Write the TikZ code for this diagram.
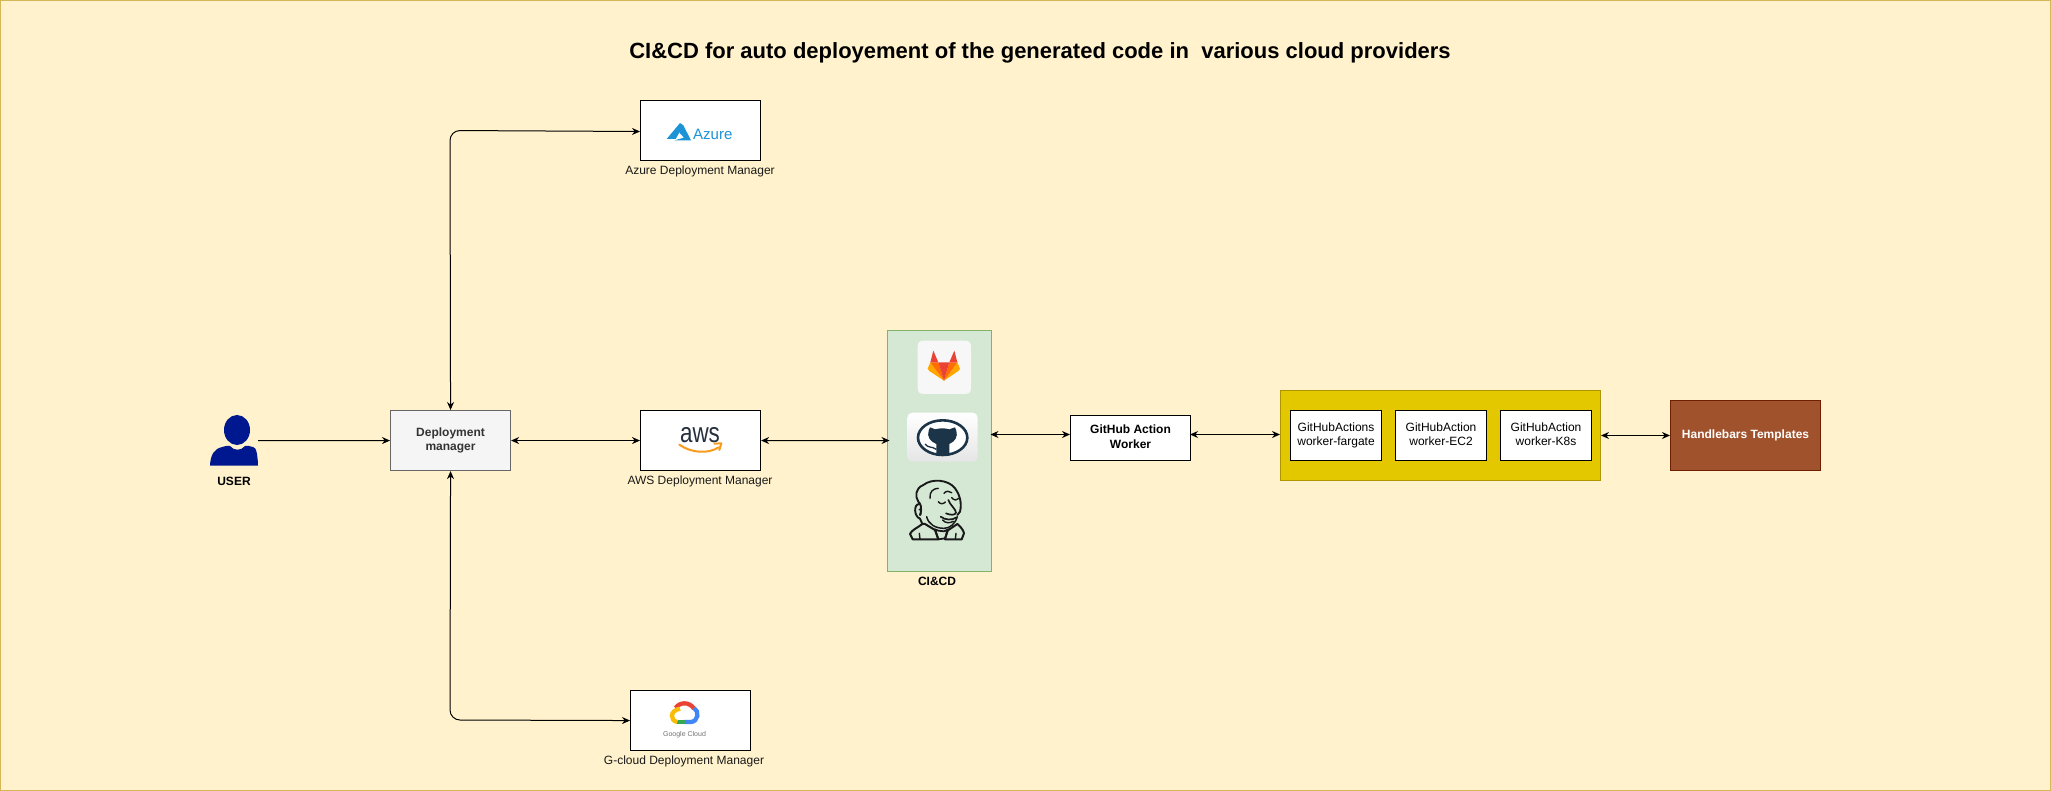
\documentclass[tikz,border=0pt]{standalone}
\usepackage{fontspec}
\setmainfont{Liberation Sans}
\usetikzlibrary{arrows.meta,shadings}
\definecolor{bgfill}{HTML}{FFF2CC}
\definecolor{bgline}{HTML}{D6B656}
\definecolor{cifill}{HTML}{D5E8D4}
\definecolor{ciline}{HTML}{82B366}
\definecolor{dmfill}{HTML}{F5F5F5}
\definecolor{dmline}{HTML}{666666}
\definecolor{dmtext}{HTML}{333333}
\definecolor{yfill}{HTML}{E3C800}
\definecolor{yline}{HTML}{B09500}
\definecolor{hfill}{HTML}{A0522D}
\definecolor{hline}{HTML}{6D1F00}
\definecolor{navy}{HTML}{00188F}
\definecolor{azblue}{HTML}{1B93D6}
\definecolor{awsdark}{HTML}{252F3E}
\definecolor{awsor}{HTML}{F79C1E}
\definecolor{ghdark}{HTML}{1B3448}
\definecolor{gred}{HTML}{EA4335}
\definecolor{gblue}{HTML}{4285F4}
\definecolor{ggreen}{HTML}{34A853}
\definecolor{gyel}{HTML}{FBBC05}
\newcommand{\lowered}[2]{\raisebox{-#1}{\begin{tabular}{@{}c@{}}#2\end{tabular}}}
\tikzset{
  x=1pt,y=-1pt,
  nf/.style={font=\fontsize{12}{14.4}\selectfont},
  bf/.style={font=\fontsize{12}{14.4}\selectfont\bfseries},
  box/.style={draw=black,line width=1.1pt,fill=white,minimum width=120pt,minimum height=60pt,anchor=north west,inner sep=0pt},
  wbox/.style={draw=black,line width=1.1pt,fill=white,minimum width=91pt,minimum height=50pt,anchor=north west,inner sep=0pt,nf},
  lbl/.style={nf,text=black!90,inner sep=0pt},
  blbl/.style={bf,inner sep=0pt},
  conn/.style={-{Stealth[length=8pt,width=7pt]},line width=1pt,black},
  dconn/.style={{Stealth[length=8pt,width=7pt]}-{Stealth[length=8pt,width=7pt]},line width=1pt,black},
}
\begin{document}
\begin{tikzpicture}
\useasboundingbox (0,0) rectangle (2051,791);
\fill[bgfill] (0,0) rectangle (2051,791);
\draw[bgline,line width=1.2pt] (0.6,0.6) rectangle (2050.4,790.4);
\node[font=\fontsize{22}{26}\selectfont\bfseries,inner sep=0pt] (title) at (1040,53) {CI\&CD for auto deployement of the generated code in\ \ various cloud providers};

% boxes
\node[box] (azure) at (640,100) {};
\node[box] (aws) at (640,410) {};
\node[box] (gcp) at (630,690) {};
\node[box,draw=dmline,fill=dmfill,text=dmtext,bf] (dm) at (390,410) {\lowered{1.5pt}{Deployment\\manager}};
\node[draw=ciline,line width=1pt,fill=cifill,minimum width=103.5pt,minimum height=240.5pt,anchor=north west,inner sep=0pt] (ci) at (887,330) {};
\node[box,minimum height=45pt,bf] (worker) at (1070,415) {\lowered{0pt}{GitHub Action\\Worker}};
\node[draw=yline,line width=1pt,fill=yfill,minimum width=320pt,minimum height=90pt,anchor=north west,inner sep=0pt] (workers) at (1280,390) {};
\node[wbox] (w1) at (1290,410) {\lowered{1pt}{GitHubActions\\worker-fargate}};
\node[wbox] (w2) at (1395,410) {\lowered{1pt}{GitHubAction\\worker-EC2}};
\node[wbox] (w3) at (1500,410) {\lowered{1pt}{GitHubAction\\worker-K8s}};
\node[draw=hline,line width=1pt,fill=hfill,text=white,minimum width=150pt,minimum height=70pt,anchor=north west,inner sep=0pt,bf] (hb) at (1670,400) {\raisebox{-1pt}{Handlebars Templates}};

% labels
\node[lbl] (azl) at (700,171.5) {Azure Deployment Manager};
\node[lbl] (awl) at (700,481.5) {AWS Deployment Manager};
\node[lbl] (gcl) at (684,761.5) {G-cloud Deployment Manager};
\node[blbl] (cil) at (937,581) {CI\&CD};
\node[blbl] (usl) at (234,481) {USER};

% user icon
\fill[navy] (237,430) ellipse (13pt and 15pt);
\fill[navy] (210,465.5) .. controls (210.5,455) and (214,449) .. (222,447) .. controls (226,446) and (228,445.5) .. (230,446) .. controls (234,451) and (241,451) .. (245,446) .. controls (247,445.5) and (250,446) .. (253,447) .. controls (254,447) and (256,448) .. (257,454) .. controls (257.5,458) and (258,461) .. (258,465.5) -- cycle;
\coordinate (usr) at (258,440.5);

% Azure logo
\begin{scope}[shift={(620,90)},scale=1/3]
\fill[azblue] (180,99) -- (140,147) -- (167,147) -- (190,106) -- cycle;
\fill[azblue] (190,106) -- (213,151) -- (164,151) -- (192,143) -- (172,121) -- cycle;
\end{scope}
\node[font=\fontsize{15}{18}\selectfont,text=azblue,inner sep=0pt,anchor=west] (azt) at (693,134) {Azure};

% AWS logo
\node[font=\fontsize{28}{30}\selectfont,text=awsdark,inner sep=0pt,xscale=0.8] (awt) at (700,435) {aws};
\begin{scope}[shift={(620,400)},scale=1/3]
\draw[awsor,line width=2pt,line cap=round] (178,134) .. controls (215,160) and (265,162) .. (296,142);
\draw[awsor,line width=2pt,line cap=round,line join=round] (283,131) -- (304,130) -- (298,150);
\end{scope}

% Google Cloud logo
\begin{scope}[shift={(620,680)},scale=1/3]
\draw[line width=4.3pt,gred] (167,84) .. controls (178,66) and (208,64) .. (222,86);
\draw[line width=4.3pt,gblue] (222,84) .. controls (238,92) and (236,125) .. (212,126) -- (193,126);
\draw[line width=4.3pt,ggreen] (195,126) -- (172,126);
\draw[line width=4.3pt,gyel] (172,126) .. controls (150,122) and (148,92) .. (180,86);
\end{scope}
\node[font=\fontsize{7}{9}\selectfont,text=black!55,inner sep=0pt] (gct) at (684.5,735) {Google Cloud};

% GitLab logo
\begin{scope}[shift={(870,320)},scale=1/3]
\fill[white!97!black] (143,82) .. controls (143,67) and (148,62) .. (163,62) -- (283,62) .. controls (298,62) and (303,67) .. (303,82) -- (303,202) .. controls (303,217) and (298,222) .. (283,222) -- (163,222) .. controls (148,222) and (143,217) .. (143,202) -- cycle;
\fill[orange!70!yellow] (181,127) -- (173,146) -- (178,153) -- (222,182) -- cycle;
\fill[orange!70!yellow] (262,127) -- (270,146) -- (265,153) -- (222,182) -- cycle;
\fill[orange!85!red] (181,127) -- (205,127) -- (222,182) -- cycle;
\fill[orange!85!red] (262,127) -- (238,127) -- (222,182) -- cycle;
\fill[gred] (205,127) -- (238,127) -- (222,182) -- cycle;
\fill[gred] (181,127) -- (190,92) -- (205,127) -- cycle;
\fill[gred] (262,127) -- (253,92) -- (238,127) -- cycle;
\end{scope}

% GitHub logo
\begin{scope}[shift={(870,320)},scale=1/3]
\shade[top color=white,bottom color=black!10,rounded corners=5pt] (112,278) rectangle (323,425);
\draw[ghdark,line width=2.6pt,fill=white] (218,353) ellipse (74 and 52);
\fill[ghdark] (176,332) -- (180,322) -- (196,328) .. controls (208,324) and (226,324) .. (238,328) -- (255,322) -- (259,332) .. controls (264,350) and (256,364) .. (238,372) -- (238,407) -- (199,407) -- (199,372) .. controls (180,364) and (170,350) .. (176,332) -- cycle;
\draw[ghdark,line width=1.3pt] (165,372) .. controls (175,385) and (185,378) .. (199,388);
\end{scope}

% Jenkins
\begin{scope}[shift={(870,320)},scale=1/3,line width=1.4pt,black!90,line cap=round,line join=round]
\draw[line width=1.9pt] (150,585) .. controls (158,560) and (150,550) .. (145,545) .. controls (135,530) and (135,505) .. (160,495) .. controls (185,475) and (235,478) .. (255,505) .. controls (270,525) and (276,550) .. (270,575) -- (262,585);
\draw[line width=1.9pt] (148,552) .. controls (130,552) and (132,590) .. (150,596) -- (157,612);
\draw (147,570) .. controls (150,564) and (156,568) .. (152,585);
\draw (180,535) .. controls (178,515) and (190,505) .. (205,505);
\draw (205,545) .. controls (210,553) and (220,553) .. (226,546);
\draw (245,533) .. controls (252,542) and (262,542) .. (267,535);
\draw (222,520) .. controls (228,512) and (238,512) .. (245,518);
\draw[line width=1.7pt] (235,540) .. controls (240,555) and (258,568) .. (258,578) .. controls (255,587) and (240,585) .. (228,580);
\draw[line width=1.7pt] (212,590) .. controls (225,600) and (245,602) .. (260,592);
\draw (218,600) .. controls (225,610) and (240,610) .. (250,604);
\draw[line width=1.5pt] (170,590) .. controls (175,612) and (195,625) .. (222,625) .. controls (240,625) and (255,612) .. (262,590);
\draw[line width=2pt] (157,612) .. controls (140,625) and (125,630) .. (120,642) -- (128,658) -- (205,658) -- (195,630) -- (165,612) -- cycle;
\draw[line width=2pt] (262,612) .. controls (272,620) and (280,630) .. (282,640) -- (275,658) -- (225,658) -- (232,632) -- cycle;
\draw[line width=1.8pt] (195,628) -- (205,658) -- (225,655) -- (235,628) -- (222,634) -- (205,632) -- cycle;
\draw (148,640) -- (150,658);
\draw (258,640) -- (256,658);
\end{scope}

% connectors
\coordinate (cia) at (889.5,440.5);
\coordinate (cib) at (990.5,434.5);
\coordinate (wl) at (1070,434.5);
\coordinate (wr) at (1190,434.5);
\coordinate (yl) at (1280,434.5);
\coordinate (azin) at (640,131.5);
\coordinate (azc) at (450,130.5);
\coordinate (gcc) at (450,720);
\draw[conn] (usr) -- (dm.west);
\draw[dconn] (dm.east) -- (aws.west);
\draw[dconn] (aws.east) -- (cia);
\draw[dconn] (cib) -- (wl);
\draw[dconn] (wr) -- (yl);
\draw[dconn] (workers.east) -- (hb.west);
\draw[dconn,rounded corners=10pt] (dm.north) -- (azc) -- (azin);
\draw[dconn,rounded corners=10pt] (dm.south) -- (gcc) -- (gcp.west);
\end{tikzpicture}
\end{document}
